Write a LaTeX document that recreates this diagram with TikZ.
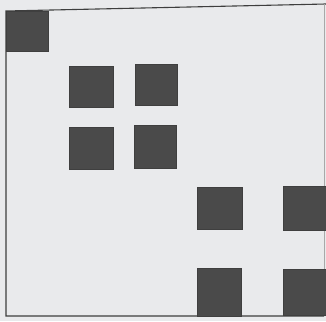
\documentclass[tikz,border=0pt]{standalone}
\usetikzlibrary{positioning}
\definecolor{cpaper}{HTML}{E9EAEC}
\definecolor{cink}{HTML}{4A4A4A}
\definecolor{cline}{HTML}{3E3E3E}
\definecolor{cfaint}{HTML}{A8A8A8}
\tikzset{
  every picture/.style={line width=0.9pt},
  cell/.style={draw=cink!85!black, fill=cink, line width=0.6pt, inner sep=0pt, minimum width=#1},
  cell/.default=43pt,
  frame/.style={draw=cline, line width=1.1pt},
}
\begin{document}
\begin{tikzpicture}[x=1pt, y=-1pt]
  \fill[cpaper] (0,0) rectangle (326,321);
  \useasboundingbox (0,0) rectangle (326,321);

  % frame
  \coordinate (tl) at (6,11);
  \coordinate (tr) at (326,4);
  \coordinate (br) at (324,316);
  \coordinate (bl) at (6,316);
  \draw[frame] (tr) -- (tl) -- (bl) -- (br);
  \draw[draw=cfaint, line width=0.6pt] (324,4) -- (br);

  % dark cells
  \node[cell=42pt, minimum height=40pt] (c1) at (27,31) {};
  \node[cell=44pt, minimum height=41pt] (c2) at (91,86.5) {};
  \node[cell=42pt, minimum height=41pt] (c3) at (156,84.5) {};
  \node[cell=44pt, minimum height=42pt] (c4) at (91,148) {};
  \node[cell=42pt, minimum height=43pt] (c5) at (155,146.5) {};
  \node[cell=45pt, minimum height=42pt] (c6) at (219.5,208) {};
  \node[cell=43pt, minimum height=44pt] (c7) at (304.5,208) {};
  \node[cell=44pt, minimum height=48pt] (c8) at (219,292) {};
  \node[cell=43pt, minimum height=46pt] (c9) at (304.5,292) {};
\end{tikzpicture}
\end{document}
